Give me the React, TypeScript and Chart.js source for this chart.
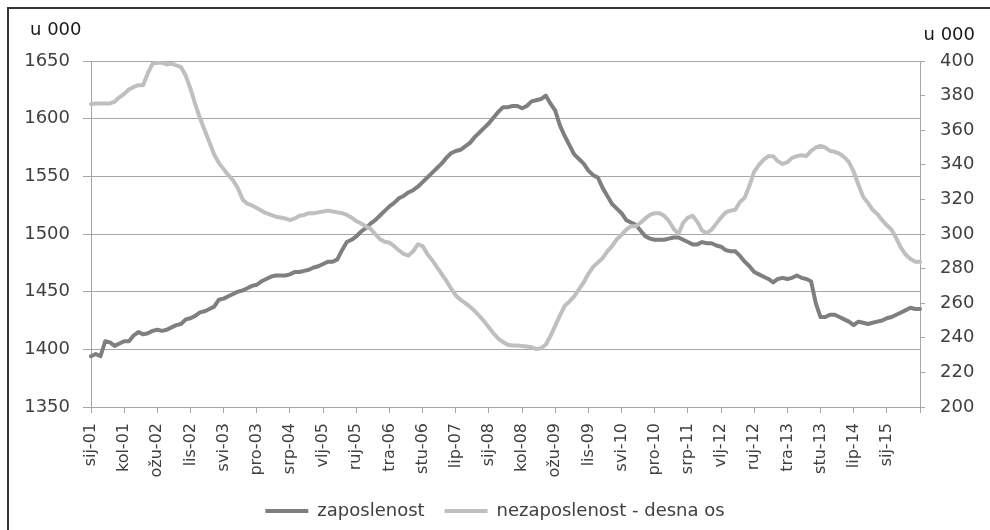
import React, { useEffect, useRef } from 'react';
import { Chart, registerables } from 'chart.js';

Chart.register(...registerables);

const MONTHS = ['sij', 'vlj', 'ožu', 'tra', 'svi', 'lip', 'srp', 'kol', 'ruj', 'lis', 'stu', 'pro'];
const START_YEAR = 2001;
const LABEL_EVERY = 7;
const UNIT = 'u 000';

// zaposlenost (left axis, thousands), monthly from sij-01
const ZAPOSLENOST = [
  1394, 1396, 1394, 1407, 1406, 1403, 1405, 1407, 1407, 1412,
  1415, 1413, 1414, 1416, 1417, 1416, 1417, 1419, 1421, 1422,
  1426, 1427, 1429, 1432, 1433, 1435, 1437, 1443, 1444, 1446,
  1448, 1450, 1451, 1453, 1455, 1456, 1459, 1461, 1463, 1464,
  1464, 1464, 1465, 1467, 1467, 1468, 1469, 1471, 1472, 1474,
  1476, 1476, 1478, 1486, 1493, 1495, 1498, 1502, 1505, 1509,
  1512, 1516, 1520, 1524, 1527, 1531, 1533, 1536, 1538, 1541,
  1545, 1549, 1553, 1557, 1561, 1566, 1570, 1572, 1573, 1576,
  1579, 1584, 1588, 1592, 1596, 1601, 1606, 1610, 1610, 1611,
  1611, 1609, 1611, 1615, 1616, 1617, 1620, 1613, 1607, 1594,
  1585, 1577, 1569, 1565, 1561, 1555, 1551, 1549, 1540, 1533,
  1526, 1522, 1518, 1512, 1510, 1508, 1503, 1498, 1496, 1495,
  1495, 1495, 1496, 1497, 1497, 1495, 1493, 1491, 1491, 1493,
  1492, 1492, 1490, 1489, 1486, 1485, 1485, 1481, 1476, 1472,
  1467, 1465, 1463, 1461, 1458, 1461, 1462, 1461, 1462, 1464,
  1462, 1461, 1459, 1440, 1428, 1428, 1430, 1430, 1428, 1426,
  1424, 1421, 1424, 1423, 1422, 1423, 1424, 1425, 1427, 1428,
  1430, 1432, 1434, 1436, 1435, 1435,
];

// nezaposlenost (right axis, thousands), monthly from sij-01
const NEZAPOSLENOST = [
  375, 375.5, 375.5, 375.5, 375.5, 376.5, 379, 381, 383.5, 385,
  386, 386, 393, 398.5, 399, 399, 398, 398.5, 397.5, 396.5,
  391.5, 384, 375, 367, 360, 353, 346, 341, 337.5, 334,
  331, 326.5, 320, 317.5, 316.5, 315, 313.5, 312, 311, 310,
  309.5, 309, 308, 309, 310.5, 311, 312, 312, 312.5, 313,
  313.5, 313, 312.5, 312, 311, 309.5, 307.5, 306, 304.5, 303,
  300, 297, 295.5, 295, 293, 290.5, 288.5, 287.5, 290, 294,
  293, 288.5, 285, 281, 277, 273, 268.5, 264.5, 262, 260,
  258, 255.5, 252.5, 249.5, 246, 242.5, 239.5, 237.5, 236, 235.5,
  235.5, 235.3, 235, 234.5, 233.5, 234, 236, 241, 247, 253,
  258.5, 261, 264, 268, 272, 277, 281, 283.5, 286, 290,
  293, 297, 299.5, 302.5, 304.5, 304.5, 306.5, 309, 311, 312,
  312, 310.5, 307.5, 303, 300, 306.5, 309.5, 310.5, 307, 302,
  300.5, 302.5, 306, 309.5, 312.5, 313.5, 314, 318.5, 321, 328,
  336, 340, 343, 345, 345, 342, 340.5, 341.5, 344, 345,
  345.5, 345, 348, 350, 351, 350, 348, 347.5, 346.5, 344.5,
  341.5, 336, 328.5, 321.5, 318, 314, 311.5, 308, 305, 302.5,
  297.5, 292, 288, 285.5, 284, 284,
];

const LABELS = ZAPOSLENOST.map(
  (_, i) => `${MONTHS[i % 12]}-${String((START_YEAR + Math.floor(i / 12)) % 100).padStart(2, '0')}`
);

const LEFT_MIN = 1350;
const LEFT_MAX = 1650;
const LEFT_STEP = 50;
const RIGHT_MIN = 200;
const RIGHT_MAX = 400;
const RIGHT_STEP = 20;

const SERIES_NAMES = ['zaposlenost', 'nezaposlenost - desna os'];

const FONT = 'DejaVu Sans';
const TEXT = '#404040';
const GRID = '#a6a6a6';
const DARK = '#7f7f7f';
const LIGHT = '#bfbfbf';

export default function App() {
  const ref = useRef<HTMLCanvasElement>(null);

  useEffect(() => {
    const canvas = ref.current;
    if (!canvas) return;
    const chart = new Chart(canvas, {
      type: 'line',
      data: {
        labels: LABELS,
        datasets: [
          {
            label: SERIES_NAMES[0],
            data: ZAPOSLENOST,
            yAxisID: 'y',
            borderColor: DARK,
            backgroundColor: DARK,
            borderWidth: 4,
            pointRadius: 0,
            borderJoinStyle: 'round',
            borderCapStyle: 'round',
            order: 1,
          },
          {
            label: SERIES_NAMES[1],
            data: NEZAPOSLENOST,
            yAxisID: 'y1',
            borderColor: LIGHT,
            backgroundColor: LIGHT,
            borderWidth: 4,
            pointRadius: 0,
            borderJoinStyle: 'round',
            borderCapStyle: 'round',
            order: 0,
          },
        ],
      },
      options: {
        responsive: false,
        animation: false,
        devicePixelRatio: 1,
        layout: { padding: { top: 61, right: 0, bottom: 0, left: 0 } },
        plugins: {
          tooltip: { enabled: false },
          legend: {
            position: 'bottom',
            labels: {
              font: { family: FONT, size: 18 },
              color: TEXT,
              boxWidth: 43,
              boxHeight: 4,
              padding: 20,
              sort: (a: any, b: any) => a.datasetIndex - b.datasetIndex,
              generateLabels: (c: any) =>
                Chart.defaults.plugins.legend.labels
                  .generateLabels(c)
                  .map((l: any) => ({ ...l, lineWidth: 0 })),
            },
          },
        },
        scales: {
          x: {
            type: 'category',
            grid: {
              drawOnChartArea: false,
              tickLength: 6,
              color: GRID,
              tickColor: (ctx: any) => (ctx.index % LABEL_EVERY === 0 ? GRID : 'rgba(0,0,0,0)'),
            },
            border: { color: GRID },
            ticks: {
              autoSkip: false,
              minRotation: 90,
              maxRotation: 90,
              padding: 10,
              font: { family: FONT, size: 16 },
              color: TEXT,
              callback: (_v: any, i: number) =>
                i % LABEL_EVERY === 0 && i < LABELS.length - 1 ? LABELS[i] : '',
            },
            afterFit: (s: any) => {
              s.height = 75;
            },
          },
          y: {
            position: 'left',
            min: LEFT_MIN,
            max: LEFT_MAX,
            ticks: {
              stepSize: LEFT_STEP,
              padding: 13,
              font: { family: FONT, size: 18 },
              color: TEXT,
              callback: (v: any) => String(v),
            },
            grid: { color: GRID, tickLength: 8 },
            border: { color: GRID },
            afterFit: (s: any) => {
              s.width = 91;
            },
          },
          y1: {
            position: 'right',
            min: RIGHT_MIN,
            max: RIGHT_MAX,
            ticks: {
              stepSize: RIGHT_STEP,
              padding: 15,
              font: { family: FONT, size: 18 },
              color: TEXT,
              callback: (v: any) => String(v),
            },
            grid: { drawOnChartArea: false, tickLength: 5, color: GRID },
            border: { color: GRID },
            afterFit: (s: any) => {
              s.width = 70;
            },
          },
        },
      },
    });
    return () => chart.destroy();
  }, []);

  const unitStyle: React.CSSProperties = {
    position: 'absolute',
    fontFamily: FONT,
    fontSize: 18,
    lineHeight: '18px',
    color: '#1a1a1a',
    whiteSpace: 'nowrap',
  };

  return (
    <div
      style={{
        position: 'fixed',
        left: 0,
        top: 0,
        width: 990,
        height: 530,
        overflow: 'hidden',
        background: '#fff',
      }}
    >
      <canvas ref={ref} width={990} height={530} style={{ position: 'absolute', left: 0, top: 0, display: 'block' }} />
      <div
        style={{
          position: 'absolute',
          left: 7,
          top: 7,
          width: 1100,
          height: 700,
          borderTop: '2px solid #333',
          borderLeft: '2px solid #333',
          pointerEvents: 'none',
        }}
      />
      <span style={{ ...unitStyle, left: 30, top: 20 }}>{UNIT}</span>
      <span style={{ ...unitStyle, right: 15, top: 25 }}>{UNIT}</span>
    </div>
  );
}
